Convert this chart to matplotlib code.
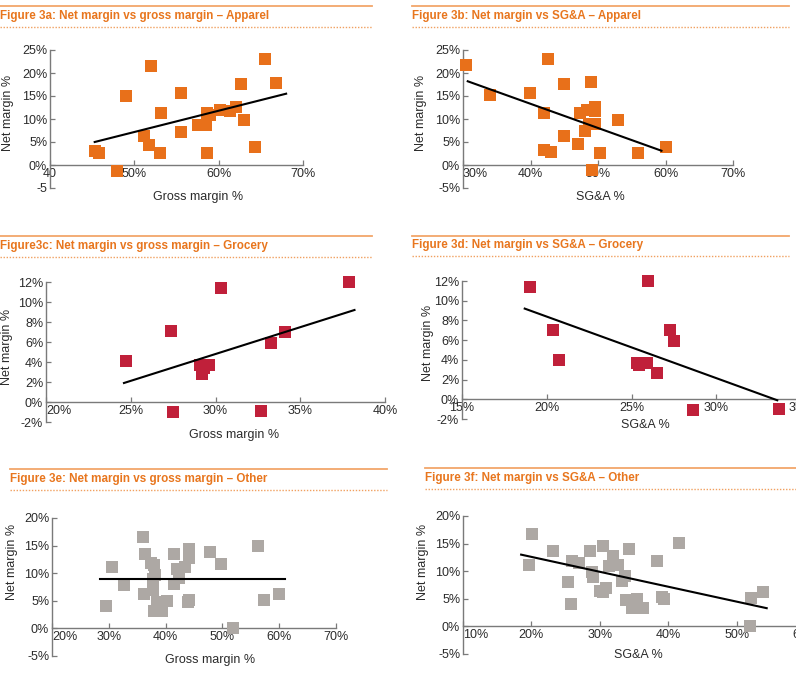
import matplotlib
matplotlib.use("Agg")
import matplotlib.pyplot as plt
from matplotlib.lines import Line2D

plt.rcParams['font.family'] = ['Liberation Sans', 'DejaVu Sans']

# ---- datos (en %) ----
# Apparel: margen bruto vs margen neto
app_gm = [45.3, 45.8, 48.0, 49.0, 52.0, 51.1, 51.7, 53.1, 53.2, 55.5, 55.5, 57.6,
          58.5, 58.6, 59.0, 58.6, 60.2, 61.3, 62.1, 62.6, 63.0, 64.3, 65.5, 66.8]
app_nm_gm = [3.1, 2.6, -1.2, 15.0, 21.6, 6.2, 4.4, 2.6, 11.2, 15.6, 7.1, 8.8,
             8.8, 11.2, 10.9, 2.6, 12.0, 11.8, 12.5, 17.7, 9.7, 4.0, 23.0, 17.9]
app_trend_x = [45.3, 68.0]
app_trend_y = [5.0, 15.5]

# Apparel: SG&A vs margen neto
app_sga = [30.5, 34.0, 39.9, 42.6, 42.0, 42.0, 43.0, 44.9, 44.9, 47.1, 47.4, 48.3,
           48.1, 48.9, 48.6, 49.6, 49.6, 49.6, 49.1, 50.3, 53.0, 55.9, 60.0]
app_nm_sga = [21.7, 15.2, 15.7, 23.0, 11.2, 3.3, 2.8, 17.7, 6.3, 4.6, 11.3, 11.9,
              7.3, 18.1, 9.0, 12.6, 11.7, 9.0, -1.0, 2.6, 9.8, 2.6, 4.0]
app_sga_trend_x = [30.7, 59.4]
app_sga_trend_y = [18.2, 3.1]

# Grocery: margen bruto vs margen neto
gro_gm = [24.7, 27.4, 27.5, 29.1, 29.2, 29.6, 29.3, 30.3, 32.7, 33.3, 34.1, 37.9]
gro_nm_gm = [4.1, 7.1, -1.0, 3.7, 2.85, 3.7, 3.4, 11.4, -0.9, 5.9, 7.0, 12.0]
gro_trend_x = [24.6, 38.2]
gro_trend_y = [1.9, 9.2]

# Grocery: SG&A vs margen neto
gro_sga = [19.0, 20.35, 20.7, 25.3, 25.45, 25.9, 26.0, 26.5, 27.3, 27.5, 28.6, 33.7]
gro_nm_sga = [11.4, 7.0, 4.0, 3.7, 3.5, 3.65, 12.0, 2.7, 7.0, 5.9, -1.1, -1.0]
gro_sga_trend_x = [18.7, 33.6]
gro_sga_trend_y = [9.2, -0.1]

# Other: margen bruto vs margen neto
oth_gm = [29.5, 30.5, 32.7, 36.1, 36.4, 36.2, 37.5, 38.0, 38.2, 37.7, 37.7, 37.9,
          38.4, 39.3, 40.3, 41.4, 41.5, 42.0, 42.4, 43.4, 44.2, 44.2, 44.1, 44.0,
          47.8, 49.7, 51.8, 56.2, 57.3, 60.0]
oth_nm_gm = [4.0, 11.2, 7.8, 16.5, 13.5, 6.3, 11.9, 11.4, 9.6, 8.9, 6.9, 3.2,
             4.8, 3.2, 5.0, 8.1, 13.4, 10.8, 9.2, 11.1, 14.3, 12.7, 5.1, 4.7,
             13.8, 11.7, 0.0, 15.0, 5.2, 6.3]
oth_trend_x = [28.4, 61.1]
oth_trend_y = [8.86, 8.86]

# Other: SG&A vs margen neto
oth_sga = [19.7, 20.1, 23.2, 25.3, 25.8, 26.0, 26.9, 28.5, 28.8, 29.0, 30.4, 30.1,
           30.5, 30.9, 31.4, 32.0, 32.6, 33.2, 33.7, 33.9, 34.2, 34.7, 35.5, 36.3,
           38.3, 39.1, 39.4, 41.6, 52.0, 52.1, 53.9]
oth_nm_sga = [11.1, 16.7, 13.7, 8.0, 4.1, 11.9, 11.5, 13.6, 9.8, 9.0, 14.5, 6.4,
              6.2, 7.0, 11.0, 12.8, 11.1, 8.3, 9.2, 4.7, 14.0, 3.3, 5.0, 3.3,
              11.8, 5.3, 4.9, 15.1, 0.0, 5.2, 6.3]
oth_sga_trend_x = [18.5, 54.4]
oth_sga_trend_y = [13.0, 3.3]

# ---- estilo ----
W, H = 796, 695
ORANGE_T = '#E8761E'
C_APP = '#E8701A'
C_GRO = '#C0203A'
C_OTH = '#ADA8A4'
AXC = '#7a7a7a'
TXT = '#2b2b2b'
FS = 9.0

fig = plt.figure(figsize=(W / 100, H / 100), dpi=100)


def rect(left, right, top, bottom):
    return [left / W, 1 - bottom / H, (right - left) / W, (bottom - top) / H]


def header(x0, x1, y_line, y_text, y_dot, text):
    fig.add_artist(Line2D([x0 / W, x1 / W], [1 - y_line / H] * 2, color='#F2A66A', lw=1.3,
                          transform=fig.transFigure))
    fig.add_artist(Line2D([x0 / W, x1 / W], [1 - y_dot / H] * 2, color='#F0A060', lw=1.0,
                          ls=(0, (1, 1.2)), transform=fig.transFigure))
    fig.text(x0 / W, 1 - y_text / H, text, color=ORANGE_T, fontsize=8.4, fontweight='bold',
             va='center', ha='left')


def panel(r, x, y, tx, ty, color, xlim, ylim, xticks, xlabels, yticks, ylabels,
          xlab, xlab_pos, ylab_pos, first_left=False):
    ax = fig.add_axes(r)
    ax.scatter(x, y, marker='s', s=72, color=color, linewidths=0, zorder=3, clip_on=False)
    ax.plot(tx, ty, color='black', lw=1.5, zorder=4)
    ax.set_xlim(*xlim)
    ax.set_ylim(*ylim)
    ax.set_facecolor('none')
    for s in ['top', 'right']:
        ax.spines[s].set_visible(False)
    ax.spines['bottom'].set_position(('data', 0))
    for s in ['bottom', 'left']:
        ax.spines[s].set_color(AXC)
        ax.spines[s].set_linewidth(1.0)
    ax.set_xticks(xticks)
    ax.set_xticklabels(xlabels)
    ax.set_yticks(yticks)
    ax.set_yticklabels(ylabels)
    ax.tick_params(direction='in', length=3.5, width=0.9, color=AXC, labelcolor=TXT,
                   labelsize=FS, pad=2)
    if first_left:
        ax.get_xticklabels()[0].set_ha('left')
    fig.text(xlab_pos[0] / W, 1 - xlab_pos[1] / H, xlab, fontsize=FS, color=TXT,
             ha='center', va='center')
    fig.text(ylab_pos[0] / W, 1 - ylab_pos[1] / H, 'Net margin %', fontsize=FS, color=TXT,
             ha='center', va='center', rotation=90)
    return ax


pct = lambda vals: ['%d%%' % v for v in vals]

# Figure 3a
header(0, 372, 6, 16, 27, 'Figure 3a: Net margin vs gross margin \u2013 Apparel')
panel(rect(50, 303, 50, 188), app_gm, app_nm_gm, app_trend_x, app_trend_y, C_APP,
      (40, 70), (-5, 25), [40, 50, 60, 70], ['40', '50%', '60%', '70%'],
      [-5, 0, 5, 10, 15, 20, 25], ['-5'] + pct([0, 5, 10, 15, 20, 25]),
      'Gross margin %', (198, 197), (8, 113))

# Figure 3b
header(412, 789, 6, 16, 27, 'Figure 3b: Net margin vs SG&A \u2013 Apparel')
panel(rect(463, 733, 50, 188), app_sga, app_nm_sga, app_sga_trend_x, app_sga_trend_y, C_APP,
      (30, 70), (-5, 25), [30, 40, 50, 60, 70], pct([30, 40, 50, 60, 70]),
      [-5, 0, 5, 10, 15, 20, 25], pct([-5, 0, 5, 10, 15, 20, 25]),
      'SG&A %', (600, 197), (421, 113), first_left=True)

# Figure 3c
header(0, 372, 236, 246, 257, 'Figure3c: Net margin vs gross margin \u2013 Grocery')
panel(rect(46, 385, 282, 422), gro_gm, gro_nm_gm, gro_trend_x, gro_trend_y, C_GRO,
      (20, 40), (-2, 12), [20, 25, 30, 35, 40], pct([20, 25, 30, 35, 40]),
      [-2, 0, 2, 4, 6, 8, 10, 12], pct([-2, 0, 2, 4, 6, 8, 10, 12]),
      'Gross margin %', (234, 435), (7, 347), first_left=True)

# Figure 3d
header(412, 789, 236, 245, 256, 'Figure 3d: Net margin vs SG&A \u2013 Grocery')
panel(rect(462, 801, 281, 419), gro_sga, gro_nm_sga, gro_sga_trend_x, gro_sga_trend_y, C_GRO,
      (15, 35), (-2, 12), [15, 20, 25, 30, 35], pct([15, 20, 25, 30, 35]),
      [-2, 0, 2, 4, 6, 8, 10, 12], pct([-2, 0, 2, 4, 6, 8, 10, 12]),
      'SG&A %', (645, 425), (428, 343))

# Figure 3e
header(10, 387, 469, 479, 490, 'Figure 3e: Net margin vs gross margin \u2013 Other')
panel(rect(52, 336, 518, 656), oth_gm, oth_nm_gm, oth_trend_x, oth_trend_y, C_OTH,
      (20, 70), (-5, 20), [20, 30, 40, 50, 60, 70], pct([20, 30, 40, 50, 60, 70]),
      [-5, 0, 5, 10, 15, 20], pct([-5, 0, 5, 10, 15, 20]),
      'Gross margin %', (210, 660), (12, 562), first_left=True)

# Figure 3f
header(425, 796, 468, 478, 489, 'Figure 3f: Net margin vs SG&A \u2013 Other')
panel(rect(463, 805, 516, 654), oth_sga, oth_nm_sga, oth_sga_trend_x, oth_sga_trend_y, C_OTH,
      (10, 60), (-5, 20), [10, 20, 30, 40, 50, 60], pct([10, 20, 30, 40, 50, 60]),
      [-5, 0, 5, 10, 15, 20], pct([-5, 0, 5, 10, 15, 20]),
      'SG&A %', (638, 655), (423, 562), first_left=True)

fig.savefig('out.png', dpi=100)
